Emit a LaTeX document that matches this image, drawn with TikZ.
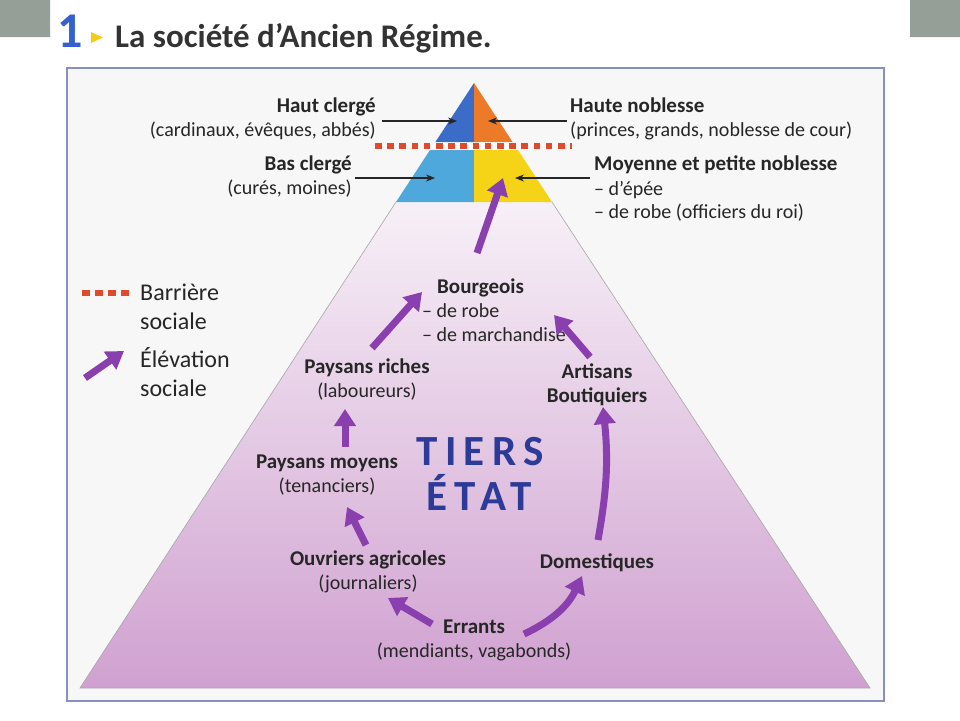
\documentclass[tikz,border=0pt]{standalone}
\usepackage{fontspec}
\setmainfont{Carlito}
\usetikzlibrary{arrows.meta,calc}

\definecolor{hcbleu}{HTML}{3B6CC8}
\definecolor{hnorange}{HTML}{EC7A28}
\definecolor{bcbleu}{HTML}{4FA8DC}
\definecolor{mnjaune}{HTML}{F5D316}
\definecolor{barrouge}{HTML}{E04A2C}
\definecolor{elevviolet}{HTML}{8A3FAE}
\definecolor{cadre}{HTML}{8890BE}
\definecolor{tiersbleu}{HTML}{2C3A98}
\definecolor{gris}{HTML}{959F98}
\definecolor{texte}{HTML}{262626}
\newcommand\tete[1]{{\fontsize{21}{24}\selectfont\bfseries #1}}

\begin{document}
\begin{tikzpicture}[x=1pt,y=-1pt,
    every node/.style={text=texte,inner sep=0pt,font=\fontsize{20}{24}\selectfont},
    lab/.style={align=center},
    elev/.style={draw=elevviolet,line width=7pt,-{Triangle[length=17pt,width=21pt]}},
    fl/.style={draw=black!85,line width=1.1pt,-{Stealth[length=9pt,width=7pt]}},
    barr/.style={draw=barrouge,line width=6pt,dash pattern=on 6.5pt off 5.7pt},
    tiers/.style={text=tiersbleu,font=\fontsize{43}{43}\bfseries\addfontfeature{LetterSpace=17}},
    leg/.style={anchor=west,align=left,font=\fontsize{24}{29}\selectfont}]
\useasboundingbox (0,0) rectangle (960,720);
\fill[white] (0,0) rectangle (960,720);
\fill[gris] (0,0) rectangle (50,37) (910,0) rectangle (960,37);

\node[text=hcbleu!90!blue,font=\fontsize{50}{50}\bfseries] (num) at (70,31) {1};
\fill[mnjaune!90!orange] (91,32) -- (103,37.5) -- (91,43) -- cycle;
\node[anchor=base west,text=black!80,font=\fontsize{33}{33}\bfseries] (titre) at (115,47) {La société d’Ancien Régime.};

\draw[cadre,fill=black!3,line width=1.2pt] (67,68) rectangle (884,701);

\shade[top color=black!5!violet!6,middle color=violet!14!white,bottom color=violet!37!white]
    (396,202) -- (552,202) -- (870,688) -- (80,688) -- cycle;
\draw[black!35,line width=0.6pt] (396,202) -- (80,688) -- (870,688) -- (552,202);

\fill[white] (474,83) -- (552,202) -- (396,202) -- cycle;
\fill[hcbleu] (474,83) -- (474,142) -- (435.4,142) -- cycle;
\fill[hnorange] (474,83) -- (512.6,142) -- (474,142) -- cycle;
\fill[bcbleu] (474,150) -- (430,150) -- (396,202) -- (474,202) -- cycle;
\fill[mnjaune] (474,150) -- (518,150) -- (552,202) -- (474,202) -- cycle;
\draw[barr] (375,146) -- (572,146);

\coordinate (zhc) at (457,121);
\coordinate (zhn) at (488,121);
\coordinate (zbc) at (435,178);
\coordinate (zmn) at (515,178);
\coordinate (zel) at (503,178);

\node[anchor=east,align=right] (hc) at (376,119) {\tete{Haut clergé}\\(cardinaux, évêques, abbés)};
\node[anchor=west,align=left] (hn) at (570,119) {\tete{Haute noblesse}\\(princes, grands, noblesse de cour)};
\node[anchor=east,align=right] (bc) at (352,177) {\tete{Bas clergé}\\(curés, moines)};
\node[anchor=west,align=left] (mn) at (594,189) {\tete{Moyenne et petite noblesse}\\– d’épée\\– de robe (officiers du roi)};

\draw[fl] ([shift={(6,2)}]hc.east) -- (zhc);
\draw[fl] ([shift={(-3,2)}]hn.west) -- (zhn);
\draw[fl] ([shift={(3,1)}]bc.east) -- (zbc);
\draw[fl] ([shift={(-4,-11)}]mn.west) -- (zmn);

\node[anchor=west,align=left] (bourg) at (422,310) {\hspace*{15pt}\tete{Bourgeois}\\– de robe\\– de marchandise};
\node[lab] (pr) at (367,380) {\tete{Paysans riches}\\(laboureurs)};
\node[lab] (art) at (597,385) {\tete{Artisans}\\\tete{Boutiquiers}};
\node[lab] (pm) at (327,475) {\tete{Paysans moyens}\\(tenanciers)};
\node[lab] (oa) at (368,572) {\tete{Ouvriers agricoles}\\(journaliers)};
\node[lab] (dom) at (597,563) {\tete{Domestiques}};
\node[lab] (err) at (474,640) {\tete{Errants}\\(mendiants, vagabonds)};
\node[tiers] (tiers1) at (480,452) {TIERS};
\node[tiers] (tiers2) at (479,492) {ÉTAT};

\draw[elev] ([shift={(-42,-16)}]err.center) -- ([shift={(20,26)}]oa.center);
\draw[elev] ([shift={(50,-6)}]err.center) to[bend right=20] ([shift={(-15,13)}]dom.center);
\draw[elev] ([shift={(-2,-27)}]oa.center) -- ([shift={(20,32)}]pm.center);
\draw[elev] ([shift={(18,-28)}]pm.center) -- ([shift={(-22,29)}]pr.center);
\draw[elev] ([shift={(5,-32)}]pr.center) -- ([shift={(0,-18)}]bourg.west);
\draw[elev] ([shift={(1,-23)}]dom.center) to[bend right=8] ([shift={(6,22)}]art.center);
\draw[elev] ([shift={(-7,-28)}]art.center) -- ([shift={(132,5)}]bourg.west);
\draw[elev] ([shift={(55,-57)}]bourg.west) -- (zel);

\node[leg] (lbar) at (140,307) {Barrière\\sociale};
\node[leg] (lel) at (140,372) {Élévation\\sociale};
\draw[barr,dash pattern=on 8pt off 5pt] ([shift={(-58,-14)}]lbar.west) -- ([shift={(-11,-14)}]lbar.west);
\draw[elev] ([shift={(-55,6)}]lel.west) -- ([shift={(-16,-21)}]lel.west);
\end{tikzpicture}
\end{document}
